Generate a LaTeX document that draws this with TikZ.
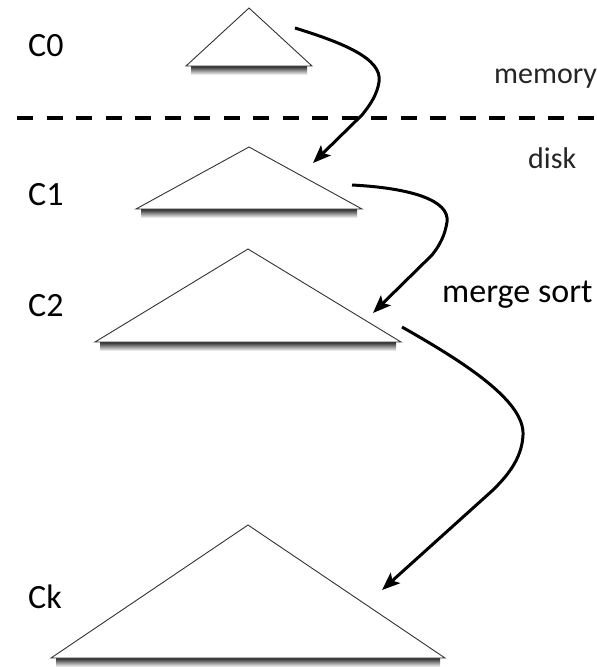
\documentclass[tikz,border=0pt]{standalone}
\usepackage{fontspec}
\setmainfont{Carlito}
\usetikzlibrary{arrows.meta,calc}

% one level of the LSM tree: name, apex x, apex y, half width, base y
\newcommand\lsmlevel[5]{%
  \coordinate (#1-top) at (#2,#3);
  \coordinate (#1-l) at (#2-#4,#5);
  \coordinate (#1-r) at (#2+#4,#5);
  \shade[top color=black!85, bottom color=white]
    ($(#1-l)+(5,0)$) rectangle ($(#1-r)+(-5,9)$);
  \draw[treeline] (#1-l) -- (#1-top) -- (#1-r) -- cycle;
}

\begin{document}
\begin{tikzpicture}[x=1pt,y=-1pt,
  treeline/.style={draw=black!80, fill=white, line width=0.9pt, line join=miter},
  levellabel/.style={anchor=base west, inner sep=0pt, font=\fontsize{34}{36}\selectfont},
  regionlabel/.style={anchor=base west, inner sep=0pt, text=black!85, font=\fontsize{30}{32}\selectfont},
  flow/.style={line width=3pt, black, -{Stealth[length=18pt,width=14pt,inset=4pt]}},
  divider/.style={line width=4pt, dash pattern=on 16pt off 13.5pt}]
\useasboundingbox (0,0) rectangle (597,667);

% components
\lsmlevel{c0}{249}{8}{63}{66}
\lsmlevel{c1}{249}{147}{113}{209}
\lsmlevel{c2}{248}{249}{153}{342}
\lsmlevel{ck}{248}{525}{197}{658}

% memory / disk boundary
\coordinate (divl) at (17,118);
\coordinate (divr) at (597,118);
\draw[divider] (divl) -- (divr);

% labels
\node[levellabel] (lc0) at (28,56) {C0};
\node[levellabel] (lc1) at (28,205) {C1};
\node[levellabel] (lc2) at (28,316) {C2};
\node[levellabel] (lck) at (28,608) {Ck};
\node[regionlabel] (mem) at (494,83) {memory};
\node[regionlabel] (dsk) at (528,168) {disk};
\node[levellabel] (ms) at (442,302) {merge sort};

% merge arrows
\coordinate (m1s) at (295,28);
\coordinate (m1e) at (313,163);
\coordinate (m2s) at (352,185);
\coordinate (m2e) at (373,313);
\coordinate (m3s) at (402,327);
\coordinate (m3e) at (382,590);

\draw[flow] (m1s) .. controls (340,42) and (383,58) .. (379,82)
  .. controls (377,95) and (370,105) .. (362,115) -- (m1e);
\draw[flow] (m2s) .. controls (410,188) and (450,200) .. (447,222)
  .. controls (445,235) and (440,245) .. (432,255) -- (m2e);
\draw[flow] (m3s) .. controls (460,360) and (525,400) .. (523,435)
  .. controls (522,460) and (505,478) .. (493,490) -- (m3e);
\end{tikzpicture}
\end{document}
